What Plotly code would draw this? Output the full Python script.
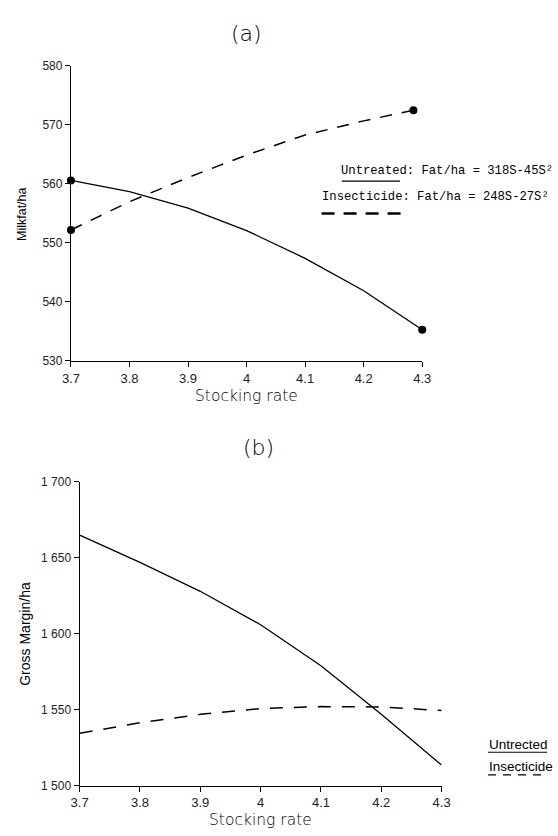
import plotly.graph_objects as go

# ---------- data ----------
# Panel (a): Milkfat/ha vs stocking rate
a_untreated_x = [3.7, 3.8, 3.9, 4.0, 4.1, 4.2, 4.3]
a_untreated_y = [560.6, 558.7, 555.9, 552.1, 547.4, 541.9, 535.3]
a_insect_x = [3.7, 3.8, 3.9, 4.0, 4.1, 4.2, 4.285]
a_insect_y = [552.2, 557.0, 561.1, 564.9, 568.3, 570.7, 572.5]

# Panel (b): Gross Margin/ha vs stocking rate
b_untreated_x = [3.7, 3.8, 3.9, 4.0, 4.1, 4.2, 4.3]
b_untreated_y = [1665, 1647, 1628, 1606, 1579, 1547, 1513.6]
b_insect_x = [3.7, 3.8, 3.9, 4.0, 4.1, 4.2, 4.3]
b_insect_y = [1534.5, 1541.5, 1547.0, 1550.8, 1552.1, 1551.9, 1549.5]

x_tickvals = [3.7, 3.8, 3.9, 4.0, 4.1, 4.2, 4.3]
x_ticktext = ["3.7", "3.8", "3.9", "4", "4.1", "4.2", "4.3"]
a_yticks = [530, 540, 550, 560, 570, 580]
b_yticks = [1500, 1550, 1600, 1650, 1700]
b_yticktext = ["1 500", "1 550", "1 600", "1 650", "1 700"]

W, H = 558, 836
def px(x): return x / W
def py(y): return 1 - y / H

XFONT = dict(family="Liberation Sans", size=13, color="#222")
YFONT = dict(family="Liberation Sans", size=12, color="#222")
DASH = "12px,10px"

fig = go.Figure()

# panel (a)
fig.add_trace(go.Scatter(x=a_untreated_x, y=a_untreated_y, mode="lines",
                         line=dict(color="black", width=1.3), xaxis="x", yaxis="y",
                         showlegend=False))
fig.add_trace(go.Scatter(x=a_insect_x, y=a_insect_y, mode="lines",
                         line=dict(color="black", width=1.5, dash=DASH), xaxis="x", yaxis="y",
                         showlegend=False))
fig.add_trace(go.Scatter(x=[a_untreated_x[0], a_untreated_x[-1], a_insect_x[0], a_insect_x[-1]],
                         y=[a_untreated_y[0], a_untreated_y[-1], a_insect_y[0], a_insect_y[-1]],
                         mode="markers", marker=dict(color="black", size=8), cliponaxis=False,
                         xaxis="x", yaxis="y", showlegend=False))

# panel (b)
fig.add_trace(go.Scatter(x=b_untreated_x, y=b_untreated_y, mode="lines",
                         line=dict(color="black", width=1.3), xaxis="x2", yaxis="y2",
                         showlegend=False))
fig.add_trace(go.Scatter(x=b_insect_x, y=b_insect_y, mode="lines",
                         line=dict(color="black", width=1.5, dash="13px,11px"), xaxis="x2", yaxis="y2",
                         showlegend=False))

axis_common = dict(showgrid=False, zeroline=False, showline=True, linecolor="black",
                   linewidth=1.2, ticks="outside", ticklen=5, tickcolor="black",
                   tickwidth=1)

fig.update_layout(
    width=W, height=H,
    margin=dict(l=0, r=0, t=0, b=0),
    paper_bgcolor="white", plot_bgcolor="white",
    xaxis=dict(domain=[px(64), px(427)], range=[3.7, 4.3], anchor="y",
               tickvals=x_tickvals, ticktext=x_ticktext, tickfont=XFONT, **axis_common),
    yaxis=dict(domain=[py(360), py(60)], range=[530, 580], anchor="x",
               tickvals=a_yticks, tickfont=YFONT, **axis_common),
    xaxis2=dict(domain=[px(73), px(447)], range=[3.7, 4.3], anchor="y2",
                tickvals=x_tickvals, ticktext=x_ticktext, tickfont=XFONT, **axis_common),
    yaxis2=dict(domain=[py(792), py(483)], range=[1500, 1700], anchor="x2",
                tickvals=b_yticks, ticktext=b_yticktext, tickfont=YFONT, **axis_common),
)

ann = []
def A(text, x, y, size, family="Liberation Sans", xanchor="center", angle=0, weight=None):
    f = dict(family=family, size=size, color="#000")
    if weight is not None:
        f["weight"] = weight
    ann.append(dict(text=text, x=px(x), y=py(y), xref="paper", yref="paper",
                    showarrow=False, xanchor=xanchor, yanchor="middle",
                    textangle=angle, font=f))

A("(a)", 245, 27, 22, family="DejaVu Sans", weight=300)
A("(b)", 258, 448, 22, family="DejaVu Sans", weight=300)
A("Stocking rate", 245, 396, 15.5, family="DejaVu Sans", weight=300)
A("Stocking rate", 260, 827, 15.5, family="DejaVu Sans", weight=300)
A("Milkfat/ha", 14, 211, 12.5, angle=-90)
A("Gross Margin/ha", 17, 637, 14, angle=-90)
A("Untreated: Fat/ha = 318S-45S²", 341, 167, 12.2, family="Liberation Mono", xanchor="left")
A("Insecticide: Fat/ha = 248S-27S²", 321, 193, 12.2, family="Liberation Mono", xanchor="left")
A("Untrected", 494, 750, 13.5, xanchor="left")
A("Insecticide", 494, 772, 13.5, xanchor="left")
fig.update_layout(annotations=ann)

shapes = [
    dict(type="line", xref="paper", yref="paper", x0=px(344), x1=px(404), y0=py(177), y1=py(177),
         line=dict(color="black", width=1.2)),
    dict(type="line", xref="paper", yref="paper", x0=px(323), x1=px(410), y0=py(210), y1=py(210),
         line=dict(color="black", width=2.5, dash="13px,9px")),
    dict(type="line", xref="paper", yref="paper", x0=px(495), x1=px(556), y0=py(758), y1=py(758),
         line=dict(color="black", width=1.1)),
    dict(type="line", xref="paper", yref="paper", x0=px(495), x1=px(556), y0=py(781), y1=py(781),
         line=dict(color="black", width=1.2, dash="8px,7px")),
]
fig.update_layout(shapes=shapes)

fig.write_html("out.html")
